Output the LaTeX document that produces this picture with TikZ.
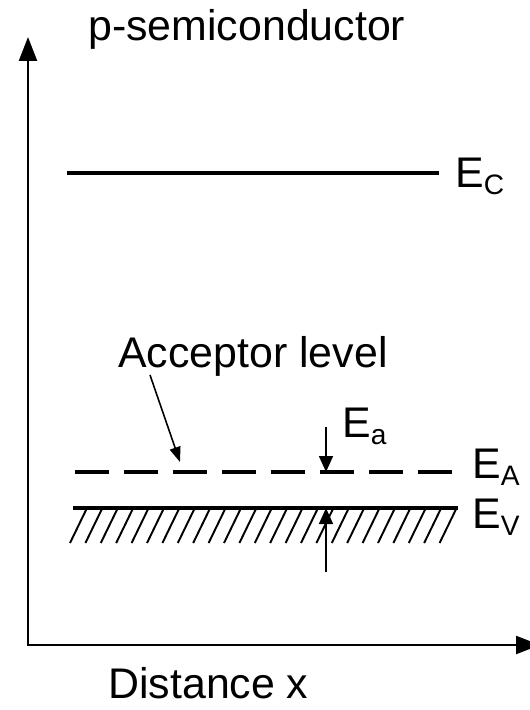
\documentclass[tikz,border=0pt]{standalone}
\usepackage{fontspec}
\setmainfont{Liberation Sans}
\usetikzlibrary{arrows.meta,calc}
\newcommand{\lev}[1]{E\raisebox{-4.3pt}{\fontsize{16}{16}\selectfont #1}}

\begin{document}
\begin{tikzpicture}[x=0.02cm,y=-0.02cm,
 font=\fontsize{24.4}{28}\selectfont,
 ax/.style={{Triangle[length=4.8mm,width=3.6mm]}-{Triangle[length=4.8mm,width=3.6mm]},line width=1.3pt},
 band/.style={line width=2.4pt},
 acc/.style={line width=2.4pt,dash pattern=on 0.68cm off 0.3cm},
 hatchln/.style={line width=1.1pt},
 gap/.style={-{Triangle[length=3.2mm,width=2.8mm]},line width=0.9pt},
 ptr/.style={-{Triangle[length=3mm,width=2.2mm]},line width=0.9pt},
 lbl/.style={inner sep=0pt,anchor=base west}]
\useasboundingbox (0,0) rectangle (530,710);
\coordinate (O) at (28,645);
\coordinate (ytop) at (28,37);
\coordinate (xend) at (540,645);
\draw[ax] (ytop)--(O)--(xend);
\node[lbl] (title) at (88,40) {p-semiconductor};
\node[lbl] (xlab) at (108,698) {Distance x};
\coordinate (C1) at (67,173);
\coordinate (C2) at (439,173);
\draw[band] (C1)--(C2);
\node[lbl] (EC) at (455,187) {\lev{C}};
\coordinate (A1) at (75,472);
\coordinate (A2) at (456,472);
\draw[acc] (A1)--(A2);
\node[lbl] (EA) at (472,478) {\lev{A}};
\coordinate (V1) at (73,508);
\coordinate (V2) at (458,508);
\draw[band] (V1)--(V2);
\foreach \i in {0,...,24}
 \draw[hatchln] ({70+15.4*\i},543)--++(17,-35);
\node[lbl] (EV) at (472,528) {\lev{V}};
\node[lbl] (acclab) at (118,367) {Acceptor level};
\coordinate (accT) at (150,375);
\coordinate (accH) at (180,462);
\draw[ptr] (accT)--(accH);
\coordinate (gapT) at (326,427);
\coordinate (gapB) at (326,572);
\draw[gap] (gapT)--(gapT|-A1);
\draw[gap] (gapB)--(gapB|-V1);
\node[lbl] (Ea) at (342,437) {\lev{a}};
\end{tikzpicture}
\end{document}
